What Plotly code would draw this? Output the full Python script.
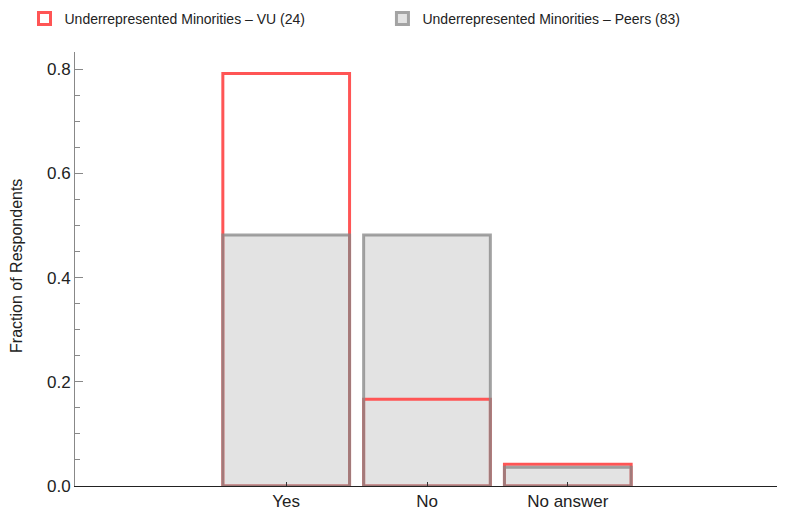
import plotly.graph_objects as go

categories = ["Yes", "No", "No answer"]
vu_values = [19/24, 4/24, 1/24]
peers_values = [40/83, 40/83, 3/83]
vu_name = "Underrepresented Minorities – VU (24)"
peers_name = "Underrepresented Minorities – Peers (83)"
y_title = "Fraction of Respondents"

xpos = list(range(len(categories)))
W = 0.9
RED = "#ff5555"
GRAYLINE = "rgba(134,134,134,0.76)"
FILL = "#e3e3e3"

fig = go.Figure()
fig.add_trace(go.Bar(x=xpos, y=peers_values, width=W, name=peers_name,
                     marker=dict(color=FILL, line=dict(width=0)),
                     showlegend=False))
fig.add_trace(go.Bar(x=xpos, y=vu_values, width=W, name=vu_name, legend="legend",
                     marker=dict(color="rgba(255,255,255,0)", line=dict(color=RED, width=3))))
fig.add_trace(go.Bar(x=xpos, y=peers_values, width=W, name=peers_name,
                     marker=dict(color="rgba(0,0,0,0)", line=dict(color=GRAYLINE, width=3)),
                     showlegend=False))
# legend proxy for peers
fig.add_trace(go.Bar(x=[None], y=[None], name=peers_name, legend="legend2",
                     marker=dict(color=FILL, line=dict(color="#a3a3a3", width=3))))

leg = dict(orientation="h", y=1.113, xref="container", yref="paper",
           xanchor="left", yanchor="top", font=dict(size=14))

# page body has an 8px default margin: compensate in the figure margins
fig.update_layout(
    barmode="overlay",
    width=785, height=513,
    margin=dict(l=67, r=14, t=44, b=35, autoexpand=False),
    paper_bgcolor="white", plot_bgcolor="white",
    font=dict(family="Liberation Sans, Arial, sans-serif", size=14, color="#222"),
    legend=dict(leg, x=0.021),
    legend2=dict(leg, x=0.477),
    xaxis=dict(range=[-1.5, 3.5], tickmode="array", tickvals=xpos, ticktext=categories,
               ticks="inside", ticklen=4, tickcolor="#333", showgrid=False, zeroline=False,
               showline=True, linecolor="#222", linewidth=1, tickfont=dict(size=17)),
    yaxis=dict(range=[0, 0.833], tickmode="array", tickvals=[0, 0.2, 0.4, 0.6, 0.8],
               ticktext=["0.0", "0.2", "0.4", "0.6", "0.8"],
               ticks="inside", ticklen=8, tickcolor="#888", showgrid=False, zeroline=False,
               showline=True, linecolor="#888", linewidth=1, tickfont=dict(size=17),
               minor=dict(tickvals=[0.05, 0.1, 0.15, 0.25, 0.3, 0.35, 0.45, 0.5, 0.55, 0.65, 0.7, 0.75],
                          ticks="inside", ticklen=5, tickcolor="#888")),
    annotations=[dict(text=y_title, textangle=-90, xref="paper", yref="paper",
                      x=-0.0824, y=0.507, xanchor="center", yanchor="middle",
                      showarrow=False, font=dict(size=16))],
)
fig.write_html("out.html")
